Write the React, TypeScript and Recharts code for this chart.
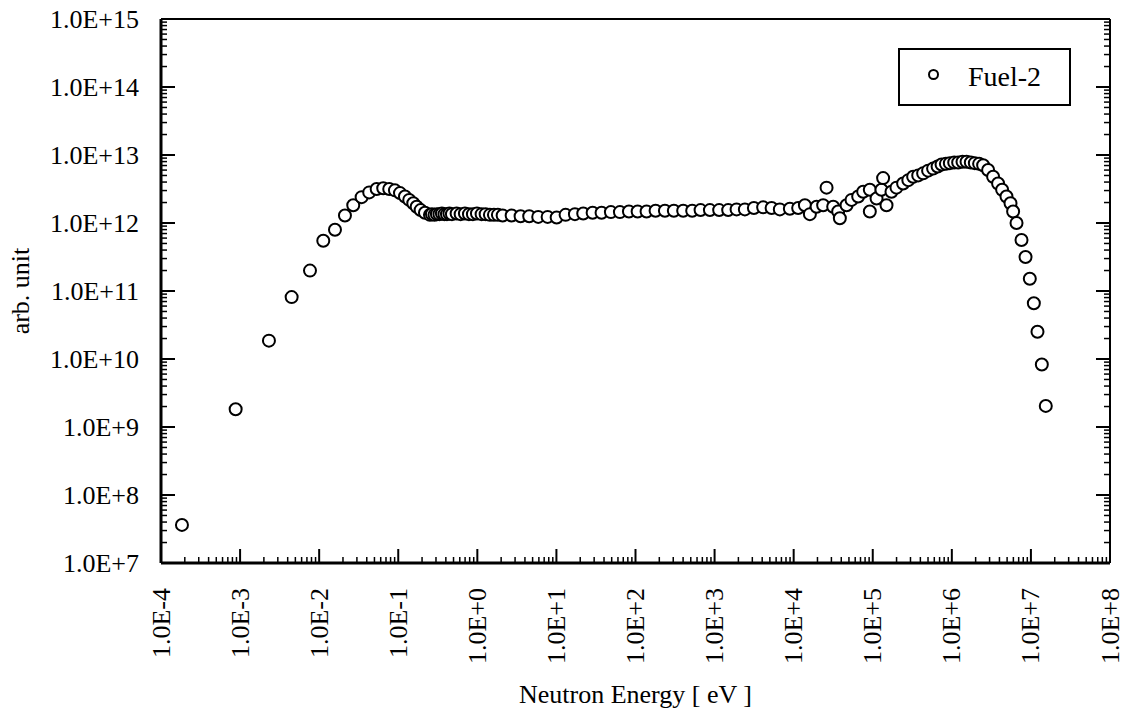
import React from 'react';
import { ScatterChart, Scatter, XAxis, YAxis, Legend } from 'recharts';

// log10 of neutron energy [eV]
const energyExp = [
  -3.735, -3.056, -2.635, -2.348, -2.116, -1.948, -1.8, -1.674, -1.569, -1.463,
  -1.367, -1.273, -1.19, -1.114, -1.042, -0.978, -0.915, -0.861, -0.81, -0.767,
  -0.717, -0.662, -0.599,
  -0.574, -0.542, -0.511, -0.479, -0.448, -0.416, -0.384, -0.353, -0.321,
  -0.262, -0.211, -0.157, -0.106, -0.056, -0.005, 0.054, 0.105, 0.159, 0.21, 0.26, 0.32,
  0.434, 0.547, 0.656, 0.77, 0.889, 1.003, 1.116, 1.234, 1.339, 1.458,
  1.571, 1.689, 1.803, 1.917, 2.027, 2.14, 2.254, 2.372, 2.485, 2.603,
  2.717, 2.823, 2.941, 3.058, 3.172, 3.278, 3.383, 3.497, 3.614, 3.721,
  3.825, 3.952, 4.057,
  4.142, 4.205, 4.29, 4.373, 4.416, 4.5, 4.563, 4.584, 4.669, 4.732,
  4.816, 4.879, 4.963, 4.963, 5.048, 5.11, 5.131, 5.174, 5.237,
  5.3, 5.384, 5.45, 5.511, 5.575, 5.637, 5.7, 5.763, 5.82, 5.87,
  5.925, 5.975, 6.03, 6.08, 6.135, 6.186, 6.24, 6.291, 6.345, 6.396,
  6.459, 6.522, 6.585, 6.636, 6.691, 6.742, 6.775, 6.818, 6.881, 6.932,
  6.986, 7.037, 7.083, 7.138, 7.188,
];

// log10 of flux [arb. unit]
const fluxExp = [
  7.56, 9.26, 10.27, 10.91, 11.3, 11.74, 11.9, 12.11, 12.26, 12.38,
  12.45, 12.5, 12.51, 12.5, 12.48, 12.44, 12.39, 12.34, 12.29, 12.24,
  12.19, 12.15, 12.12,
  12.13, 12.12, 12.13, 12.13, 12.14, 12.13, 12.13, 12.14, 12.13,
  12.14, 12.13, 12.14, 12.13, 12.13, 12.14, 12.13, 12.13, 12.12, 12.12, 12.12, 12.11,
  12.11, 12.1, 12.1, 12.09, 12.09, 12.08, 12.12, 12.13, 12.14, 12.15,
  12.15, 12.16, 12.16, 12.17, 12.17, 12.17, 12.18, 12.18, 12.18, 12.18,
  12.18, 12.19, 12.19, 12.19, 12.19, 12.2, 12.2, 12.22, 12.23, 12.22,
  12.2, 12.21, 12.22,
  12.26, 12.13, 12.24, 12.26, 12.52, 12.24, 12.17, 12.07, 12.26, 12.34,
  12.39, 12.46, 12.49, 12.17, 12.36, 12.49, 12.66, 12.26, 12.46,
  12.52, 12.58, 12.63, 12.68, 12.7, 12.73, 12.77, 12.8, 12.83, 12.86,
  12.87, 12.88, 12.89, 12.89, 12.9, 12.9, 12.89, 12.88, 12.87, 12.85,
  12.78, 12.68, 12.58, 12.49, 12.39, 12.29, 12.17, 12.0, 11.75, 11.5,
  11.18, 10.82, 10.4, 9.92, 9.31,
];

const xDecades = [-4, -3, -2, -1, 0, 1, 2, 3, 4, 5, 6, 7, 8];
const yDecades = [7, 8, 9, 10, 11, 12, 13, 14, 15];
const minorMultipliers = [2, 3, 4, 5, 6, 7, 8, 9];
const seriesName = 'Fuel-2';
const xTitle = 'Neutron Energy [ eV ]';
const yTitle = 'arb. unit';

const data = energyExp.map((e, i) => ({
  energy: Math.pow(10, e),
  flux: Math.pow(10, fluxExp[i]),
}));

function buildTicks(decades: number[]) {
  const t: number[] = [];
  decades.forEach((n, idx) => {
    t.push(Math.pow(10, n));
    if (idx < decades.length - 1) {
      minorMultipliers.forEach((m) => t.push(m * Math.pow(10, n)));
    }
  });
  return t;
}

const xTicks = buildTicks(xDecades);
const yTicks = buildTicks(yDecades);
const xDomain = [Math.pow(10, xDecades[0]), Math.pow(10, xDecades[xDecades.length - 1])];
const yDomain = [Math.pow(10, yDecades[0]), Math.pow(10, yDecades[yDecades.length - 1])];

const FONT = '"Liberation Serif", "Times New Roman", Times, serif';
const MAJOR = 14;
const MINOR = 6;

function isMajor(v: number) {
  const lg = Math.log10(v);
  return Math.abs(lg - Math.round(lg)) < 1e-6;
}

function fmt(v: number) {
  const n = Math.round(Math.log10(v));
  return `1.0E${n >= 0 ? '+' : '-'}${Math.abs(n)}`;
}

function BottomTick(props: any) {
  const { x, y, payload } = props;
  const major = isMajor(payload.value);
  const ly = y + 25;
  return (
    <g>
      <line x1={x} y1={y} x2={x} y2={y - (major ? MAJOR : MINOR)} stroke="#000" strokeWidth={major ? 2 : 1.5} />
      {major && (
        <text
          x={x}
          y={ly}
          transform={`rotate(-90 ${x} ${ly})`}
          textAnchor="end"
          dominantBaseline="central"
          fontFamily={FONT}
          fontSize={26}
          fill="#000"
        >
          {fmt(payload.value)}
        </text>
      )}
    </g>
  );
}

function TopTick(props: any) {
  const { x, y, payload } = props;
  const major = isMajor(payload.value);
  return <line x1={x} y1={y} x2={x} y2={y + (major ? MAJOR : MINOR)} stroke="#000" strokeWidth={major ? 2 : 1.5} />;
}

function LeftTick(props: any) {
  const { x, y, payload } = props;
  const major = isMajor(payload.value);
  return (
    <g>
      <line x1={x} y1={y} x2={x + (major ? MAJOR : MINOR)} y2={y} stroke="#000" strokeWidth={major ? 2 : 1.5} />
      {major && (
        <text x={x - 22} y={y} textAnchor="end" dominantBaseline="central" fontFamily={FONT} fontSize={26} fill="#000">
          {fmt(payload.value)}
        </text>
      )}
    </g>
  );
}

function RightTick(props: any) {
  const { x, y, payload } = props;
  const major = isMajor(payload.value);
  return <line x1={x} y1={y} x2={x - (major ? MAJOR : MINOR)} y2={y} stroke="#000" strokeWidth={major ? 2 : 1.5} />;
}

const renderPoint = (props: any) => (
  <circle cx={props.cx} cy={props.cy} r={6} fill="#fff" stroke="#000" strokeWidth={2} />
);

function LegendBox() {
  return (
    <svg width={173} height={58} style={{ display: 'block' }}>
      <rect x={1} y={1} width={171} height={56} fill="#fff" stroke="#000" strokeWidth={2} />
      <circle cx={35.5} cy={26.5} r={4.5} fill="#fff" stroke="#000" strokeWidth={2} />
      <text x={70} y={38} fontFamily={FONT} fontSize={28} fill="#000">
        {seriesName}
      </text>
    </svg>
  );
}

export default function App() {
  return (
    <div style={{ position: 'absolute', left: 0, top: 0, width: 1130, height: 714, background: '#fff' }}>
      <ScatterChart width={1130} height={714} margin={{ top: 18, right: 19, bottom: 150, left: 160 }}>
        <XAxis
          dataKey="energy"
          type="number"
          scale="log"
          domain={xDomain}
          allowDataOverflow
          ticks={xTicks}
          interval={0}
          height={1}
          tickSize={0}
          tickMargin={0}
          tickLine={false}
          axisLine={{ stroke: '#000', strokeWidth: 3 }}
          tick={<BottomTick />}
          label={{
            content: (p: any) => {
              const vb = p.viewBox || { x: 161, y: 563, width: 949 };
              return (
                <text x={vb.x + vb.width / 2} y={vb.y + 140} textAnchor="middle" fontFamily={FONT} fontSize={26} fill="#000">
                  {xTitle}
                </text>
              );
            },
          }}
        />
        <XAxis
          xAxisId="top"
          orientation="top"
          type="number"
          scale="log"
          domain={xDomain}
          allowDataOverflow
          ticks={xTicks}
          interval={0}
          height={1}
          tickSize={0}
          tickMargin={0}
          tickLine={false}
          axisLine={{ stroke: '#000', strokeWidth: 2 }}
          tick={<TopTick />}
        />
        <YAxis
          dataKey="flux"
          type="number"
          scale="log"
          domain={yDomain}
          allowDataOverflow
          ticks={yTicks}
          interval={0}
          width={1}
          tickSize={0}
          tickMargin={0}
          tickLine={false}
          axisLine={{ stroke: '#000', strokeWidth: 3 }}
          tick={<LeftTick />}
          label={{
            content: (p: any) => {
              const vb = p.viewBox || { x: 160, y: 19, height: 544 };
              const cx = vb.x - 140;
              const cy = vb.y + vb.height / 2;
              return (
                <text
                  x={cx}
                  y={cy}
                  transform={`rotate(-90 ${cx} ${cy})`}
                  textAnchor="middle"
                  dominantBaseline="central"
                  fontFamily={FONT}
                  fontSize={26}
                  fill="#000"
                >
                  {yTitle}
                </text>
              );
            },
          }}
        />
        <YAxis
          yAxisId="right"
          orientation="right"
          type="number"
          scale="log"
          domain={yDomain}
          allowDataOverflow
          ticks={yTicks}
          interval={0}
          width={1}
          tickSize={0}
          tickMargin={0}
          tickLine={false}
          axisLine={{ stroke: '#000', strokeWidth: 2 }}
          tick={<RightTick />}
        />
        <Legend
          verticalAlign="middle"
          align="center"
          layout="horizontal"
          content={<LegendBox />}
          wrapperStyle={{ position: 'absolute', left: 898, top: 48, width: 173, height: 58 }}
        />
        <Scatter name={seriesName} data={data} shape={renderPoint} isAnimationActive={false} />
      </ScatterChart>
    </div>
  );
}
